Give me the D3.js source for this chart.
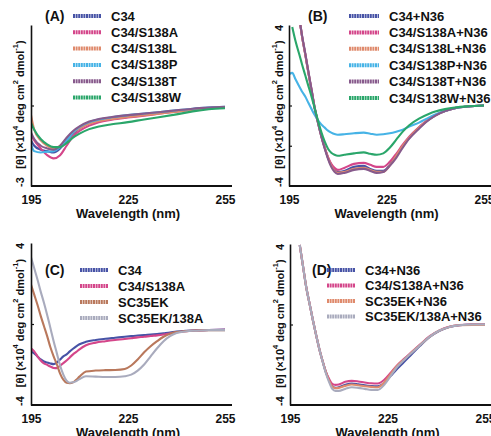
<!DOCTYPE html>
<html>
<head>
<meta charset="utf-8">
<script src="https://cdn.jsdelivr.net/npm/d3@7"></script>
<style>
body { margin: 0; background: #fff; }
text { font-family: "Liberation Sans", Arial, sans-serif; font-weight: bold; fill: #111; }
</style>
</head>
<body>
<svg id="chart" width="491" height="436"></svg>
<script>
// ---- panel A : C34 peptides alone ----
var wlA = [195, 196, 198, 200, 202, 204, 206, 208, 210, 213, 216, 220, 225, 230, 235, 240, 245, 250, 255];
var a_C34   = [-1.3, -1.5, -1.65, -1.7, -1.75, -1.6, -1.3, -1.05, -0.85, -0.65, -0.55, -0.47, -0.38, -0.32, -0.26, -0.2, -0.14, -0.09, -0.06];
var a_S138A = [-1.1, -1.3, -1.6, -1.85, -1.97, -1.85, -1.5, -1.15, -0.95, -0.75, -0.62, -0.53, -0.45, -0.38, -0.3, -0.23, -0.16, -0.1, -0.06];
var a_S138L = [-0.35, -0.9, -1.3, -1.5, -1.6, -1.5, -1.25, -1.0, -0.85, -0.68, -0.58, -0.5, -0.43, -0.36, -0.3, -0.23, -0.16, -0.1, -0.06];
var a_S138P = [-1.45, -1.7, -1.75, -1.72, -1.7, -1.55, -1.3, -1.0, -0.8, -0.62, -0.52, -0.44, -0.36, -0.3, -0.24, -0.18, -0.12, -0.08, -0.05];
var a_S138T = [-1.0, -1.25, -1.5, -1.6, -1.65, -1.5, -1.2, -0.95, -0.78, -0.6, -0.5, -0.43, -0.36, -0.3, -0.24, -0.18, -0.12, -0.08, -0.05];
var a_S138W = [-0.65, -0.9, -1.25, -1.45, -1.55, -1.55, -1.4, -1.2, -1.05, -0.88, -0.78, -0.7, -0.62, -0.52, -0.43, -0.33, -0.22, -0.14, -0.1];
var namesA = ["C34", "C34/S138A", "C34/S138L", "C34/S138P", "C34/S138T", "C34/S138W"];

// ---- panel B : C34 peptides + N36 ----
var wlB = [195, 196, 197, 198.5, 199, 200, 201, 202, 203, 204, 205, 206, 207, 208, 209, 210, 212, 215, 218, 220, 222, 224, 226, 228, 230, 232, 235, 238, 240, 243, 246, 250, 255];
var b_C34   = [null, null, null, 4.0, 3.45, 2.55, 1.6, 0.7, -0.2, -0.9, -1.55, -2.1, -2.6, -2.95, -3.2, -3.3, -3.25, -3.05, -3.0, -3.15, -3.25, -3.25, -2.95, -2.5, -2.0, -1.6, -1.1, -0.7, -0.5, -0.28, -0.13, -0.05, 0];
var b_S138A = [null, null, null, 4.0, 3.45, 2.55, 1.6, 0.7, -0.2, -0.9, -1.55, -2.1, -2.55, -2.9, -3.1, -3.2, -3.1, -2.9, -2.85, -2.95, -3.05, -3.05, -2.8, -2.4, -1.95, -1.55, -1.08, -0.68, -0.48, -0.27, -0.13, -0.05, 0];
var b_S138L = [null, null, null, 4.0, 3.45, 2.55, 1.6, 0.7, -0.2, -0.9, -1.55, -2.1, -2.6, -3.0, -3.25, -3.35, -3.3, -3.15, -3.1, -3.2, -3.3, -3.3, -2.98, -2.5, -2.0, -1.6, -1.1, -0.7, -0.5, -0.28, -0.13, -0.05, 0];
var b_S138P = [1.55, 1.62, 1.3, 0.85, 0.7, 0.45, 0.12, -0.2, -0.5, -0.75, -0.95, -1.1, -1.25, -1.35, -1.42, -1.45, -1.43, -1.38, -1.35, -1.4, -1.45, -1.43, -1.38, -1.3, -1.2, -1.05, -0.85, -0.6, -0.45, -0.27, -0.13, -0.05, 0];
var b_S138T = [null, null, null, 4.0, 3.5, 2.6, 1.65, 0.75, -0.2, -0.92, -1.58, -2.15, -2.65, -3.05, -3.3, -3.4, -3.35, -3.2, -3.15, -3.25, -3.35, -3.3, -3.0, -2.6, -2.1, -1.65, -1.15, -0.72, -0.5, -0.28, -0.13, -0.05, 0];
var b_S138W = [null, 3.9, 3.2, 2.35, 2.05, 1.5, 0.95, 0.4, -0.2, -0.8, -1.35, -1.8, -2.15, -2.35, -2.45, -2.5, -2.45, -2.38, -2.33, -2.4, -2.45, -2.38, -2.1, -1.7, -1.3, -0.98, -0.65, -0.42, -0.3, -0.18, -0.1, -0.04, 0];
var namesB = ["C34+N36", "C34/S138A+N36", "C34/S138L+N36", "C34/S138P+N36", "C34/S138T+N36", "C34/S138W+N36"];

// ---- panel C : C34 vs SC35EK ----
var wlC = [195, 196, 197, 198, 199, 200, 201, 202, 203, 204, 205, 206, 207, 208, 209, 210, 212, 215, 218, 221, 224, 226, 228, 230, 232, 234, 236, 238, 240, 243, 246, 250, 255];
var c_C34     = [-1.35, -1.45, -1.6, -1.75, -1.85, -1.9, -1.95, -1.98, -1.9, -1.75, -1.6, -1.5, -1.35, -1.22, -1.1, -1.0, -0.88, -0.79, -0.73, -0.68, -0.63, -0.6, -0.57, -0.55, -0.52, -0.5, -0.46, -0.42, -0.37, -0.33, -0.31, -0.3, -0.28];
var c_S138A   = [-1.2, -1.35, -1.6, -1.8, -1.94, -2.02, -2.1, -2.17, -2.18, -2.05, -1.93, -1.8, -1.65, -1.5, -1.38, -1.25, -1.05, -0.92, -0.85, -0.79, -0.74, -0.7, -0.66, -0.63, -0.59, -0.56, -0.52, -0.47, -0.41, -0.36, -0.32, -0.3, -0.28];
var c_SC35EK  = [1.95, 1.45, 0.95, 0.4, -0.1, -0.6, -1.15, -1.6, -2.0, -2.45, -2.75, -2.9, -2.92, -2.88, -2.75, -2.6, -2.35, -2.3, -2.28, -2.27, -2.22, -2.05, -1.75, -1.4, -1.1, -0.85, -0.63, -0.48, -0.4, -0.35, -0.32, -0.3, -0.3];
var c_SC35EKA = [3.3, 2.75, 2.2, 1.6, 1.05, 0.45, -0.2, -0.85, -1.45, -2.05, -2.5, -2.8, -2.9, -2.88, -2.82, -2.72, -2.58, -2.6, -2.62, -2.62, -2.58, -2.5, -2.3, -2.0, -1.6, -1.2, -0.85, -0.6, -0.45, -0.36, -0.33, -0.3, -0.3];
var namesC = ["C34", "C34/S138A", "SC35EK", "SC35EK/138A"];

// ---- panel D : C34 vs SC35EK + N36 ----
var wlD = [198, 199, 200, 201, 202, 203, 204, 205, 206, 207, 208, 209, 210, 212, 214, 216, 218, 220, 222, 224, 226, 228, 230, 232, 235, 238, 241, 244, 247, 251, 255];
var d_C34     = [3.95, 2.9, 1.85, 1.05, 0.25, -0.5, -1.2, -1.8, -2.35, -2.75, -3.05, -3.15, -3.12, -3.0, -2.93, -2.97, -3.02, -3.06, -3.07, -2.9, -2.55, -2.2, -1.88, -1.55, -1.06, -0.62, -0.31, -0.12, -0.04, 0, 0];
var d_S138A   = [3.95, 2.9, 1.85, 1.05, 0.25, -0.5, -1.2, -1.8, -2.33, -2.7, -2.95, -3.0, -2.98, -2.85, -2.8, -2.83, -2.88, -2.92, -2.93, -2.75, -2.4, -2.02, -1.72, -1.43, -1.0, -0.58, -0.29, -0.11, -0.03, 0, 0];
var d_SC35EK  = [3.95, 2.9, 1.85, 1.05, 0.25, -0.5, -1.2, -1.8, -2.35, -2.78, -3.08, -3.17, -3.15, -3.05, -2.98, -3.02, -3.07, -3.1, -3.12, -2.88, -2.45, -2.05, -1.75, -1.45, -1.02, -0.6, -0.3, -0.12, -0.04, -0.02, -0.02];
var d_SC35EKA = [3.95, 2.9, 1.85, 1.05, 0.25, -0.5, -1.2, -1.82, -2.4, -2.85, -3.2, -3.3, -3.3, -3.2, -3.12, -3.15, -3.2, -3.25, -3.25, -3.0, -2.55, -2.1, -1.78, -1.47, -1.03, -0.6, -0.3, -0.12, -0.04, 0, 0];
var namesD = ["C34+N36", "C34/S138A+N36", "SC35EK+N36", "SC35EK/138A+N36"];

var xTicks = [195, 225, 255];

var COL_BLUE = "#4753a6", COL_PINK = "#d4468a", COL_ORANGE = "#df8a6c",
    COL_CYAN = "#46b3e6", COL_PURPLE = "#875a8c", COL_GREEN = "#2aa66a",
    COL_BROWN = "#b9785c", COL_GRAY = "#a9abbd";

function drawPanel(svg, p) {
    var x = d3.scaleLinear().domain([195, 255]).range([p.left, p.right]);
    var y = d3.scaleLinear().domain(p.yDomain).range([p.bottom, p.top]);
    var g = svg.append("g");

    var clipId = "clip-" + p.tag.replace(/\W/g, "");
    svg.append("clipPath").attr("id", clipId)
        .append("rect")
        .attr("x", p.left).attr("y", p.top)
        .attr("width", p.axisEnd - p.left).attr("height", p.bottom - p.top);

    var line = d3.line()
        .defined(function(d) { return d[1] != null; })
        .x(function(d) { return x(d[0]); })
        .y(function(d) { return y(d[1]); })
        .curve(d3.curveMonotoneX);

    p.series.forEach(function(s) {
        g.append("path")
            .datum(p.wl.map(function(w, i) { return [w, s.values[i]]; }))
            .attr("clip-path", "url(#" + clipId + ")")
            .attr("fill", "none")
            .attr("stroke", s.color)
            .attr("stroke-width", 2.1)
            .attr("stroke-linejoin", "round")
            .attr("d", line);
    });

    // x axis
    var xa = g.append("g")
        .attr("transform", "translate(0," + p.bottom + ")")
        .call(d3.axisBottom(x).tickValues(xTicks).tickSize(0).tickPadding(9).tickFormat(d3.format("d")));
    xa.select(".domain").attr("d", "M" + p.left + ",0H" + p.axisEnd)
        .attr("stroke", "#111").attr("stroke-width", 2);
    xa.selectAll("text").style("font-size", "12px").attr("fill", "#111");

    // y axis (small inner ticks)
    var ya = g.append("g")
        .attr("transform", "translate(" + p.left + ",0)")
        .call(d3.axisLeft(y).tickValues(p.yTickMarks).tickSize(-3).tickSizeOuter(0).tickFormat(""));
    ya.select(".domain").attr("stroke", "#111").attr("stroke-width", 1.6);
    ya.selectAll(".tick line").attr("stroke", "#111").attr("stroke-width", 1.2);

    // rotated tick labels and y title
    p.yLabels.forEach(function(v) {
        g.append("text")
            .attr("transform", "translate(" + p.titleX + "," + (y(v) + (v < 0 ? -4 : 3)) + ") rotate(-90)")
            .attr("text-anchor", "middle")
            .attr("dominant-baseline", "central")
            .style("font-size", "11px")
            .text(v < 0 ? "-" + Math.abs(v) : String(v));
    });
    var yt = g.append("text")
        .attr("transform", "translate(" + p.titleX + "," + ((p.top + p.bottom) / 2 - 1) + ") rotate(-90)")
        .attr("text-anchor", "middle")
        .attr("dominant-baseline", "central")
        .style("font-size", "11px");
    yt.append("tspan").text("[\u03b8] (\u00d710");
    yt.append("tspan").attr("dy", -5).style("font-size", "7.5px").text("4");
    yt.append("tspan").attr("dy", 5).text(" deg cm");
    yt.append("tspan").attr("dy", -5).style("font-size", "7.5px").text("2");
    yt.append("tspan").attr("dy", 5).text(" dmol");
    yt.append("tspan").attr("dy", -5).style("font-size", "7.5px").text("-1");
    yt.append("tspan").attr("dy", 5).text(")");

    g.append("text")
        .attr("x", (p.left + p.right) / 2).attr("y", p.bottom + 32)
        .attr("text-anchor", "middle")
        .style("font-size", "13px")
        .text("Wavelength (nm)");

    // panel tag
    g.append("text")
        .attr("x", p.tagX).attr("y", p.legY)
        .attr("dominant-baseline", "central")
        .style("font-size", "14px")
        .text(p.tag);

    // legend
    var leg = g.selectAll(".leg").data(p.series).enter().append("g")
        .attr("transform", function(d, i) { return "translate(" + p.legX + "," + (p.legY + i * p.legStep) + ")"; });
    leg.append("line")
        .attr("x1", 0).attr("x2", p.swatch).attr("y1", 0).attr("y2", 0)
        .attr("stroke", function(d) { return d.color; })
        .attr("stroke-width", 4)
        .attr("stroke-dasharray", "2 0.6");
    leg.append("text")
        .attr("x", p.swatch + 10).attr("y", 0)
        .attr("dominant-baseline", "central")
        .style("font-size", "13px")
        .text(function(d) { return d.name; });
}

function buildChart() {
    var svg = d3.select("#chart");

    drawPanel(svg, {
        tag: "(A)", left: 31, right: 225, axisEnd: 232, top: 25, bottom: 186,
        yDomain: [-3, 3], yTickMarks: [0], yLabels: [-3], titleX: 20,
        wl: wlA, tagX: 45, legX: 73, legY: 16, legStep: 16.3, swatch: 28,
        series: [
            { name: namesA[0], values: a_C34, color: COL_BLUE },
            { name: namesA[1], values: a_S138A, color: COL_PINK },
            { name: namesA[2], values: a_S138L, color: COL_ORANGE },
            { name: namesA[3], values: a_S138P, color: COL_CYAN },
            { name: namesA[4], values: a_S138T, color: COL_PURPLE },
            { name: namesA[5], values: a_S138W, color: COL_GREEN }
        ]
    });

    drawPanel(svg, {
        tag: "(B)", left: 289, right: 484, axisEnd: 491, top: 25, bottom: 186,
        yDomain: [-4, 4], yTickMarks: [0, -2], yLabels: [4, -4], titleX: 279,
        wl: wlB, tagX: 308, legX: 349, legY: 16, legStep: 16.4, swatch: 30,
        series: [
            { name: namesB[0], values: b_C34, color: COL_BLUE },
            { name: namesB[1], values: b_S138A, color: COL_PINK },
            { name: namesB[2], values: b_S138L, color: COL_ORANGE },
            { name: namesB[3], values: b_S138P, color: COL_CYAN },
            { name: namesB[4], values: b_S138T, color: COL_PURPLE },
            { name: namesB[5], values: b_S138W, color: COL_GREEN }
        ]
    });

    drawPanel(svg, {
        tag: "(C)", left: 31, right: 225, axisEnd: 232, top: 243, bottom: 405,
        yDomain: [-4, 4], yTickMarks: [0], yLabels: [4, -4], titleX: 20,
        wl: wlC, tagX: 45, legX: 80, legY: 270, legStep: 16, swatch: 28,
        series: [
            { name: namesC[0], values: c_C34, color: COL_BLUE },
            { name: namesC[1], values: c_S138A, color: COL_PINK },
            { name: namesC[2], values: c_SC35EK, color: COL_BROWN },
            { name: namesC[3], values: c_SC35EKA, color: COL_GRAY }
        ]
    });

    drawPanel(svg, {
        tag: "(D)", left: 290, right: 485, axisEnd: 491, top: 244, bottom: 405,
        yDomain: [-4, 4], yTickMarks: [0], yLabels: [4, -4], titleX: 280,
        wl: wlD, tagX: 312, legX: 327, legY: 270, legStep: 15.5, swatch: 28,
        series: [
            { name: namesD[0], values: d_C34, color: COL_BLUE },
            { name: namesD[1], values: d_S138A, color: COL_PINK },
            { name: namesD[2], values: d_SC35EK, color: COL_ORANGE },
            { name: namesD[3], values: d_SC35EKA, color: COL_GRAY }
        ]
    });
}

buildChart();
</script>
</body>
</html>
